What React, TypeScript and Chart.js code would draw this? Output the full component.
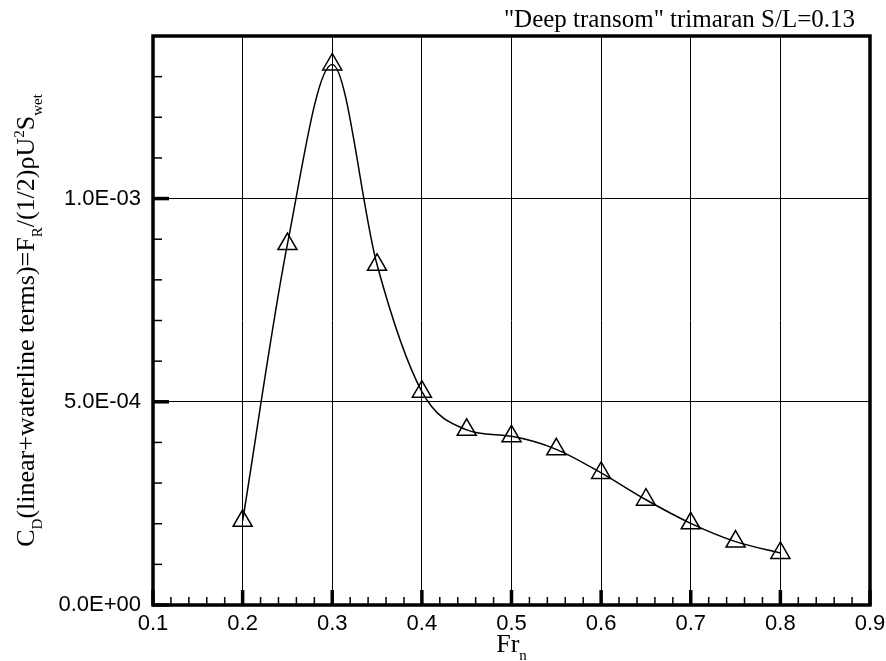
import React, { useEffect, useRef } from "react";
import { Chart, registerables } from "chart.js";

Chart.register(...registerables);

// ---- data ----
const froudeNumbers = [0.2, 0.25, 0.3, 0.35, 0.4, 0.45, 0.5, 0.55, 0.6, 0.65, 0.7, 0.75, 0.8];
const dragCoefficients = [
  2.07e-4, 8.88e-4, 1.33e-3, 8.37e-4, 5.25e-4, 4.31e-4, 4.15e-4, 3.83e-4, 3.25e-4, 2.59e-4, 2.01e-4,
  1.56e-4, 1.28e-4,
];
const xMin = 0.1;
const xMax = 0.9;
const xStep = 0.1;
const xMinorStep = 0.02;
const yMin = 0;
const yMax = 1.4e-3;
const yStep = 5e-4;
const yMinorStep = 1e-4;
const chartTitle = '"Deep transom" trimaran S/L=0.13';

const SANS = "'Liberation Sans', Arial, Helvetica, sans-serif";
const SERIF = "'Liberation Serif', 'Times New Roman', Times, serif";

type Part = { t: string; k: "n" | "sub" | "sup" };
const yTitleParts: Part[] = [
  { t: "C", k: "n" },
  { t: "D", k: "sub" },
  { t: "(linear+waterline terms)=F", k: "n" },
  { t: "R", k: "sub" },
  { t: "/(1/2)\u03C1U", k: "n" },
  { t: "2", k: "sup" },
  { t: "S", k: "n" },
  { t: "wet", k: "sub" },
];
const xTitleParts: Part[] = [
  { t: "Fr", k: "n" },
  { t: "n", k: "sub" },
];

const fmtE = (v: number) => {
  if (Math.abs(v) < 1e-12) return "0.0E+00";
  const [m, e] = v.toExponential(1).split("e");
  const n = parseInt(e, 10);
  return m + "E" + (n < 0 ? "-" : "+") + String(Math.abs(n)).padStart(2, "0");
};

const MAIN = 26;
const SUB = 15;
function partFont(k: Part["k"]) {
  return k === "n" ? `${MAIN}px ${SERIF}` : `${SUB}px ${SERIF}`;
}
function richWidth(ctx: CanvasRenderingContext2D, parts: Part[]) {
  let w = 0;
  for (const p of parts) {
    ctx.font = partFont(p.k);
    w += ctx.measureText(p.t).width;
  }
  return w;
}
function drawRich(ctx: CanvasRenderingContext2D, parts: Part[], x0: number) {
  let x = x0;
  for (const p of parts) {
    ctx.font = partFont(p.k);
    const dy = p.k === "sub" ? 8 : p.k === "sup" ? -10 : 0;
    ctx.fillText(p.t, x, dy);
    x += ctx.measureText(p.t).width;
  }
}

const decorPlugin = {
  id: "decor",
  afterDraw(chart: any) {
    const { ctx, chartArea: a } = chart;
    const xs = chart.scales.x;
    const ys = chart.scales.y;
    ctx.save();
    ctx.strokeStyle = "#000";
    ctx.fillStyle = "#000";
    ctx.lineCap = "butt";
    // inside ticks on x axis (bottom)
    const nX = Math.round((xMax - xMin) / xMinorStep);
    const perMajorX = Math.round(xStep / xMinorStep);
    for (let i = 0; i <= nX; i++) {
      const v = xMin + i * xMinorStep;
      const px = xs.getPixelForValue(v);
      const major = i % perMajorX === 0;
      ctx.lineWidth = major ? 3.5 : 1.5;
      ctx.beginPath();
      ctx.moveTo(px, a.bottom);
      ctx.lineTo(px, a.bottom - (major ? 15 : 8));
      ctx.stroke();
    }
    // inside ticks on y axis (left)
    const nY = Math.round((yMax - yMin) / yMinorStep);
    const perMajorY = Math.round(yStep / yMinorStep);
    for (let i = 0; i <= nY; i++) {
      const v = yMin + i * yMinorStep;
      const py = ys.getPixelForValue(v);
      const major = i % perMajorY === 0;
      ctx.lineWidth = major ? 3.5 : 1.5;
      ctx.beginPath();
      ctx.moveTo(a.left, py);
      ctx.lineTo(a.left + (major ? 16 : 9), py);
      ctx.stroke();
    }
    // frame
    ctx.lineWidth = 3.5;
    ctx.strokeRect(a.left, a.top, a.right - a.left, a.bottom - a.top);

    // title
    ctx.font = `25px ${SERIF}`;
    ctx.textAlign = "right";
    ctx.textBaseline = "alphabetic";
    ctx.fillText(chartTitle, 855, 27);

    // y title (rotated)
    ctx.textAlign = "left";
    const cy = (a.top + a.bottom) / 2;
    ctx.save();
    ctx.translate(34, cy);
    ctx.rotate(-Math.PI / 2);
    const wy = richWidth(ctx, yTitleParts);
    drawRich(ctx, yTitleParts, -wy / 2);
    ctx.restore();

    // x title
    const cx = (a.left + a.right) / 2;
    ctx.save();
    ctx.translate(cx, 652);
    const wx = richWidth(ctx, xTitleParts);
    drawRich(ctx, xTitleParts, -wx / 2);
    ctx.restore();

    ctx.restore();
  },
};

export default function App() {
  const ref = useRef<HTMLCanvasElement | null>(null);
  useEffect(() => {
    document.body.style.margin = "0";
    const canvas = ref.current;
    if (!canvas) return;
    const chart = new Chart(canvas, {
      type: "line",
      data: {
        datasets: [
          {
            data: froudeNumbers.map((x, i) => ({ x, y: dragCoefficients[i] })),
            borderColor: "#000",
            borderWidth: 1.5,
            cubicInterpolationMode: "monotone",
            pointStyle: "triangle",
            pointRadius: 11,
            pointBorderWidth: 1.5,
            pointBorderColor: "#000",
            pointBackgroundColor: "rgba(0,0,0,0)",
            fill: false,
            clip: false as any,
          },
        ],
      },
      options: {
        responsive: false,
        animation: false,
        events: [],
        layout: { padding: { top: 36, right: 16, left: 0, bottom: 0 } },
        plugins: { legend: { display: false }, tooltip: { enabled: false }, title: { display: false } },
        scales: {
          x: {
            type: "linear",
            min: xMin,
            max: xMax,
            afterFit: (s: any) => {
              s.height = 56;
              s.paddingLeft = 0;
              s.paddingRight = 0;
            },
            border: { display: false },
            grid: {
              drawTicks: false,
              lineWidth: 1,
              color: (c: any) => {
                const v = c.tick ? c.tick.value : 0;
                return Math.abs(v - xMin) < 1e-6 || Math.abs(v - xMax) < 1e-6 ? "rgba(0,0,0,0)" : "#000";
              },
            },
            ticks: {
              stepSize: xStep,
              padding: 6,
              color: "#000",
              font: { family: SANS, size: 22 },
              maxRotation: 0,
              autoSkip: false,
              callback: (v: any) => Number(v).toFixed(1),
            },
          },
          y: {
            type: "linear",
            min: yMin,
            max: yMax,
            afterFit: (s: any) => {
              s.width = 153;
              s.paddingTop = 0;
              s.paddingBottom = 0;
            },
            border: { display: false },
            grid: {
              drawTicks: false,
              lineWidth: 1,
              color: (c: any) => {
                const v = c.tick ? c.tick.value : 0;
                return Math.abs(v) < 1e-12 ? "rgba(0,0,0,0)" : "#000";
              },
            },
            ticks: {
              stepSize: yStep,
              includeBounds: false,
              padding: 12,
              color: "#000",
              font: { family: SANS, size: 22 },
              autoSkip: false,
              callback: (v: any) => fmtE(Number(v)),
            },
          },
        },
      },
      plugins: [decorPlugin],
    });
    return () => chart.destroy();
  }, []);
  return (
    <div style={{ width: 886, height: 661, background: "#fff" }}>
      <canvas ref={ref} width={886} height={661} style={{ display: "block" }} />
    </div>
  );
}
